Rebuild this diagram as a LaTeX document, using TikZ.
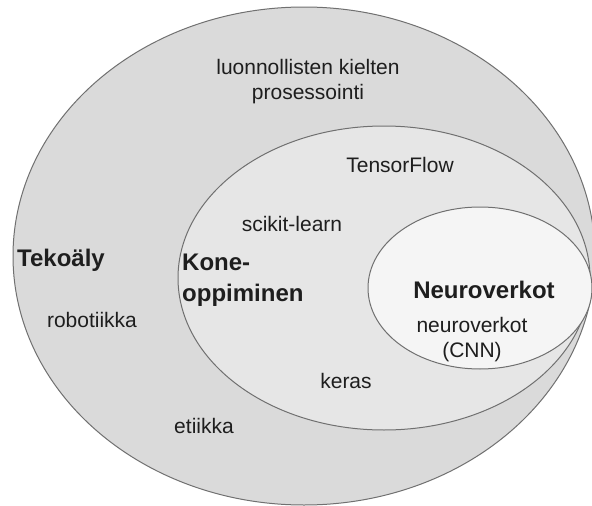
\documentclass[tikz,border=0pt]{standalone}
\usepackage{fontspec}
\setmainfont{Liberation Sans}
\definecolor{outerfill}{HTML}{DADADA}
\definecolor{midfill}{HTML}{E6E6E6}
\definecolor{innerfill}{HTML}{F5F5F5}
\definecolor{edge}{HTML}{707070}
\definecolor{ink}{HTML}{1E1E1E}
\begin{document}
\begin{tikzpicture}[x=1pt,y=-1pt,
  region/.style={draw=edge,line width=1pt},
  txt/.style={inner sep=0pt,text=ink,font=\fontsize{21}{25}\selectfont},
  head/.style={inner sep=0pt,text=ink,font=\fontsize{24}{31}\selectfont\bfseries}]
\useasboundingbox (0,0) rectangle (592,506);
\fill[white] (0,0) rectangle (592,506);
\clip (0,0) rectangle (592,506);
% regions
\draw[region,fill=outerfill] (304,256) ellipse [x radius=291pt, y radius=249pt];
\draw[region,fill=midfill] (384,278) ellipse [x radius=206pt, y radius=152pt];
\draw[region,fill=innerfill] (480,288) ellipse [x radius=112pt, y radius=81pt];
% labels
\node[txt,align=center] (nlp) at (308,82) {luonnollisten kielten\\prosessointi};
\node[txt] (tf) at (400,165) {TensorFlow};
\node[txt] (sk) at (292,224) {scikit-learn};
\node[head,anchor=west] (ai) at (17,260) {Tekoäly};
\node[head,anchor=west,align=left] (ml) at (182,280) {Kone-\\oppiminen};
\node[txt] (rob) at (92,320) {robotiikka};
\node[head] (nn) at (484,290) {Neuroverkot};
\node[txt,align=center] (cnn) at (472,340) {neuroverkot\\(CNN)};
\node[txt] (ker) at (346,381) {keras};
\node[txt] (eti) at (204,426) {etiikka};
\end{tikzpicture}
\end{document}
